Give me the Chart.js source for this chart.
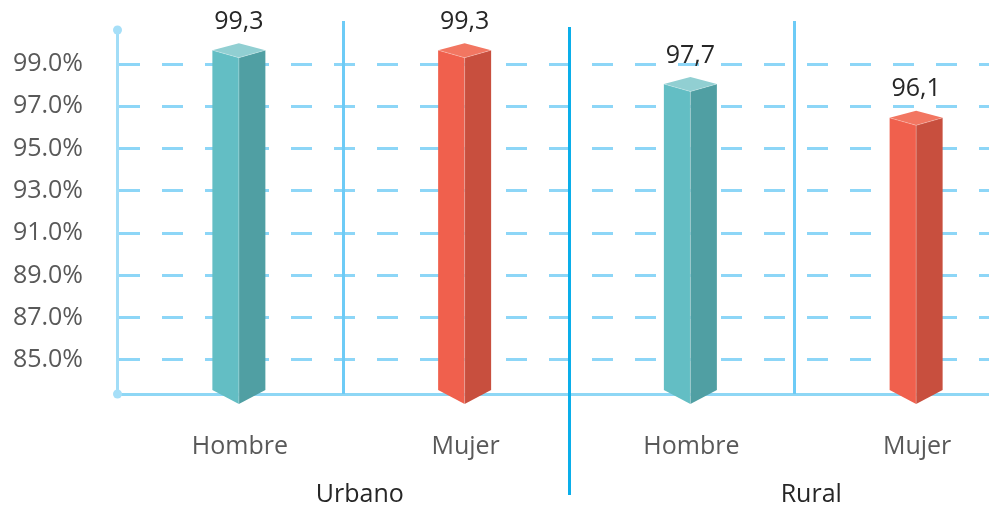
<!DOCTYPE html>
<html>
<head>
<meta charset="utf-8">
<script src="https://cdn.jsdelivr.net/npm/chart.js@4.4.3/dist/chart.umd.min.js"></script>
<style>
  html, body { margin: 0; padding: 0; background: #fff; }
  #wrap { width: 989px; height: 509px; position: relative; }
</style>
</head>
<body>
<div id="wrap"><canvas id="chart"></canvas></div>
<script>
const categories = ['Hombre', 'Mujer', 'Hombre', 'Mujer'];
const groups = ['Urbano', 'Rural'];
const values = [99.3, 99.3, 97.7, 96.1];
const yTicks = [85, 87, 89, 91, 93, 95, 97, 99];

const Y_MIN = 83.39;
const Y_MAX = 100.61;
// the plot runs a little past the right edge of the canvas
const PLOT_RIGHT = 1020;

const FONT = '"Open Sans", "Segoe UI", sans-serif';
const TEAL = { front: '#63BEC4', side: '#509FA3', top: '#91CFD2' };
const RED = { front: '#F0604D', side: '#C84F3E', top: '#F27661' };
const palette = [TEAL, RED, TEAL, RED];

// shift of the drawn column from the category centre (3D look)
const DEPTH_X = 9;

function formatValue(v) {
  return v.toFixed(1).replace('.', ',');
}

const widen = {
  id: 'widen',
  afterLayout(chart) {
    const x = chart.scales.x;
    chart.chartArea.right = PLOT_RIGHT;
    chart.chartArea.width = PLOT_RIGHT - chart.chartArea.left;
    x.right = PLOT_RIGHT;
    x.width = x.right - x.left;
    x.configure();
  }
};

// separators between categories and the little dots on the value axis
const frame = {
  id: 'frame',
  beforeDatasetsDraw(chart) {
    const { ctx, chartArea } = chart;
    const x = chart.scales.x;
    ctx.save();
    ctx.lineWidth = 3;
    for (let i = 0; i < categories.length - 1; i++) {
      const px = Math.round((x.getPixelForValue(i) + x.getPixelForValue(i + 1)) / 2) + 0.5;
      const groupEdge = i === 1;
      ctx.strokeStyle = groupEdge ? '#0AAEEA' : '#6DCBF6';
      ctx.beginPath();
      ctx.moveTo(px, groupEdge ? 27 : 21);
      ctx.lineTo(px, groupEdge ? 495 : chartArea.bottom);
      ctx.stroke();
    }
    ctx.fillStyle = '#A6DFF8';
    [chartArea.top, chartArea.bottom].forEach(py => {
      ctx.beginPath();
      ctx.arc(chartArea.left + 0.5, py, 4.5, 0, Math.PI * 2);
      ctx.fill();
    });
    ctx.restore();
  }
};

// draws each bar as a square column with a lit top and a shaded side
const columns = {
  id: 'columns',
  afterDatasetsDraw(chart) {
    const ctx = chart.ctx;
    const meta = chart.getDatasetMeta(0);
    ctx.save();
    meta.data.forEach((bar, i) => {
      const c = palette[i];
      const half = bar.width / 2;
      const mid = bar.x + DEPTH_X;
      const l = mid - half, r = mid + half;
      const top = bar.y, base = bar.base;

      ctx.fillStyle = c.front;
      ctx.beginPath();
      ctx.moveTo(l, top - 7.5);
      ctx.lineTo(mid, top);
      ctx.lineTo(mid, base + 10);
      ctx.lineTo(l, base - 4);
      ctx.closePath();
      ctx.fill();

      ctx.fillStyle = c.side;
      ctx.beginPath();
      ctx.moveTo(mid, top);
      ctx.lineTo(r, top - 7.5);
      ctx.lineTo(r, base - 4);
      ctx.lineTo(mid, base + 10);
      ctx.closePath();
      ctx.fill();

      ctx.fillStyle = c.top;
      ctx.beginPath();
      ctx.moveTo(l, top - 7.5);
      ctx.lineTo(mid, top - 14.5);
      ctx.lineTo(r, top - 7.5);
      ctx.lineTo(mid, top);
      ctx.closePath();
      ctx.fill();

      // faint highlight on the front edge
      ctx.strokeStyle = 'rgba(255,255,255,0.25)';
      ctx.lineWidth = 1;
      ctx.beginPath();
      ctx.moveTo(l, top - 7.5);
      ctx.lineTo(mid, top);
      ctx.lineTo(r, top - 7.5);
      ctx.moveTo(mid, top);
      ctx.lineTo(mid, base + 10);
      ctx.stroke();

      ctx.fillStyle = '#262626';
      ctx.font = '25px ' + FONT;
      ctx.textAlign = 'center';
      ctx.textBaseline = 'middle';
      ctx.fillText(formatValue(values[i]), mid, top - 36);
    });
    ctx.restore();
  },
  afterDraw(chart) {
    const ctx = chart.ctx;
    const x = chart.scales.x;
    ctx.save();
    ctx.fillStyle = '#262626';
    ctx.font = '25px ' + FONT;
    ctx.textAlign = 'center';
    ctx.textBaseline = 'middle';
    groups.forEach((g, gi) => {
      const cx = (x.getPixelForValue(gi * 2) + x.getPixelForValue(gi * 2 + 1)) / 2 + 17;
      ctx.fillText(g, cx, 495);
    });
    ctx.restore();
  }
};

new Chart(document.getElementById('chart'), {
  type: 'bar',
  data: {
    labels: categories,
    datasets: [{
      data: values,
      base: Y_MIN,
      backgroundColor: 'rgba(0,0,0,0)',
      borderWidth: 0,
      barThickness: 53,
      clip: false
    }]
  },
  options: {
    responsive: true,
    maintainAspectRatio: false,
    animation: false,
    events: [],
    layout: { padding: { top: 30, right: 0, left: 0, bottom: 0 } },
    plugins: {
      legend: { display: false },
      tooltip: { enabled: false }
    },
    scales: {
      x: {
        afterFit: s => {
          s.height = 115;
          s.paddingLeft = 0;
          s.paddingRight = 0;
        },
        grid: { drawOnChartArea: false, drawTicks: false },
        border: { color: '#8ED7F5', width: 3 },
        ticks: {
          color: '#595959',
          font: { family: FONT, size: 25 },
          padding: 38,
          labelOffset: 10,
          maxRotation: 0,
          autoSkip: false
        }
      },
      y: {
        min: Y_MIN,
        max: Y_MAX,
        afterFit: s => {
          s.width = 117;
          s.paddingTop = 0;
          s.paddingBottom = 0;
        },
        afterBuildTicks: s => { s.ticks = yTicks.map(v => ({ value: v })); },
        grid: { color: '#8DD6F7', lineWidth: 3, drawTicks: false },
        border: { color: '#A2DDF7', width: 3, dash: [21, 22] },
        ticks: {
          color: '#595959',
          font: { family: FONT, size: 25 },
          padding: 34,
          callback: v => v.toFixed(1) + '%'
        }
      }
    }
  },
  plugins: [widen, frame, columns]
});
</script>
</body>
</html>
